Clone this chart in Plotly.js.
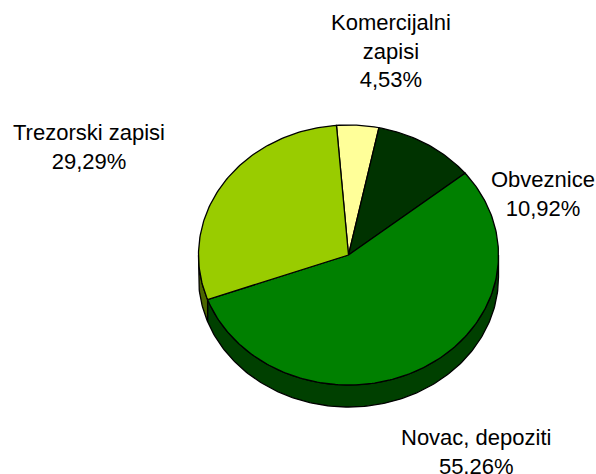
<!DOCTYPE html>
<html>
<head>
<meta charset="utf-8">
<script src="https://cdn.plot.ly/plotly-3.0.1.min.js"></script>
<style>html,body{margin:0;padding:0;background:#fff;}#chart{width:596px;height:474px;}</style>
</head>
<body>
<div id="chart"></div>
<script>
// ---- data ----
const categories = ['Komercijalni zapisi', 'Obveznice', 'Novac, depoziti', 'Trezorski zapisi'];
const shares = [4.53, 10.92, 55.26, 29.29];

// ---- styles / layout ----
const topColors = ['#FFFF99', '#003300', '#008000', '#99CC00'];
const sideColors = ['#808050', '#001A00', '#004000', '#4C6600'];
const labelWrap = [true, false, false, false];
const labelPos = [[391, 51], [543, 194], [476, 452], [89, 147]];
const geo = {cx: 348.5, cy: 255, rx: 150, ry: 130, depth: 22, start: -4.6};

const rad = d => d * Math.PI / 180;
function pt(deg, dy) {
  return [geo.cx + geo.rx * Math.sin(rad(deg)), geo.cy - geo.ry * Math.cos(rad(deg)) + (dy || 0)];
}
function arc(a, b, dy) {
  const pts = [];
  const n = Math.max(2, Math.ceil(Math.abs(b - a)));
  for (let i = 0; i <= n; i++) pts.push(pt(a + (b - a) * i / n, dy));
  return pts;
}

const total = shares.reduce((s, v) => s + v, 0);
const sideTraces = [], topTraces = [];
let ang = geo.start;
shares.forEach((v, i) => {
  const a = ang, b = ang + v / total * 360;
  ang = b;
  // top face
  const poly = [[geo.cx, geo.cy]].concat(arc(a, b)).concat([[geo.cx, geo.cy]]);
  topTraces.push({
    type: 'scatter', mode: 'lines', fill: 'toself', fillcolor: topColors[i],
    x: poly.map(p => p[0]), y: poly.map(p => p[1]),
    line: {color: '#000', width: 1.3}, hoverinfo: 'skip', showlegend: false
  });
  // side wall (front half only: 90..270 deg)
  const s = Math.max(a, 90), e = Math.min(b, 270);
  if (e > s) {
    const up = arc(s, e, 0);
    const down = arc(e, s, geo.depth);
    const sp = up.concat(down).concat([up[0]]);
    sideTraces.push({
      type: 'scatter', mode: 'lines', fill: 'toself', fillcolor: sideColors[i],
      x: sp.map(p => p[0]), y: sp.map(p => p[1]),
      line: {color: '#000', width: 1.3}, hoverinfo: 'skip', showlegend: false
    });
  }
});

const fmt = v => v.toFixed(2).replace('.', ',') + '%';
const annotations = categories.map((c, i) => ({
  x: labelPos[i][0], y: labelPos[i][1], xref: 'x', yref: 'y',
  text: (labelWrap[i] ? c.replace(' ', '<br>') : c) + '<br>' + fmt(shares[i]),
  showarrow: false, xanchor: 'center', yanchor: 'middle', align: 'center',
  font: {family: 'Liberation Sans, Arial, sans-serif', size: 22, color: '#000'}
}));

const layout = {
  width: 596, height: 474,
  margin: {l: 0, r: 0, t: 0, b: 0},
  paper_bgcolor: '#fff', plot_bgcolor: '#fff',
  xaxis: {range: [0, 596], visible: false, fixedrange: true},
  yaxis: {range: [474, 0], visible: false, fixedrange: true},
  showlegend: false,
  annotations: annotations
};
Plotly.newPlot('chart', sideTraces.concat(topTraces), layout, {displayModeBar: false, staticPlot: true});
</script>
</body>
</html>
